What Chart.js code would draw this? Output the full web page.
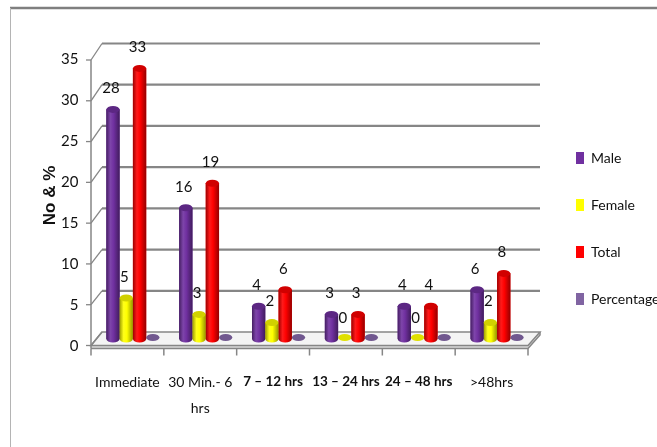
<!DOCTYPE html>
<html>
<head>
<meta charset="utf-8">
<script src="https://cdn.jsdelivr.net/npm/chart.js@4/dist/chart.umd.min.js"></script>
<style>
  html, body { margin: 0; padding: 0; background: #ffffff; }
  #wrap { width: 657px; height: 447px; position: relative; }
</style>
</head>
<body>
<div id="wrap"><canvas id="c" width="657" height="447"></canvas></div>
<script>
// Time categories and series values
const categories = ['Immediate', ['30 Min.- 6', 'hrs'], '7 – 12 hrs', '13 – 24 hrs', '24 – 48 hrs', '>48hrs'];
const male       = [28, 16, 4, 3, 4, 6];
const female     = [5, 3, 2, 0, 0, 2];
const total      = [33, 19, 6, 3, 4, 8];
const percentage = [0, 0, 0, 0, 0, 0];
const yAxisMax  = 35;
const yAxisStep = 5;
const yAxisTitle = 'No & %';

const FONT = "Lato, 'DejaVu Sans Condensed', sans-serif";
const GRID = '#868686';

function shade(hex, k) {
  const n = parseInt(hex.slice(1), 16);
  const r = n >> 16, g = (n >> 8) & 255, b = n & 255;
  const f = c => Math.round(k < 0 ? c * (1 + k) : c + (255 - c) * k);
  return 'rgb(' + f(r) + ',' + f(g) + ',' + f(b) + ')';
}

// Perspective frame: back wall gridlines, side diagonals, floor slab, front axis
const frame3d = {
  id: 'frame3d',
  beforeDatasetsDraw(chart) {
    const { ctx, chartArea: a, scales: { y } } = chart;
    const f = v => y.getPixelForValue(v);
    const front = v => f(v) + 6.5 + 1.5 * v / yAxisMax;
    const back = v => f(v) - 7 - 1.5 * v / yAxisMax;
    const fx0 = a.left - 5.5, fx1 = a.right - 5.5;
    const bx0 = a.left + 5.5, bx1 = a.right + 6.5;
    ctx.save();
    // outer frame
    ctx.strokeStyle = '#7f7f7f'; ctx.lineWidth = 2.5;
    ctx.beginPath(); ctx.moveTo(10, 8); ctx.lineTo(chart.width, 8); ctx.stroke();
    ctx.strokeStyle = '#b4b4b4'; ctx.lineWidth = 1;
    ctx.beginPath(); ctx.moveTo(10.5, 8); ctx.lineTo(10.5, chart.height); ctx.stroke();

    // floor slab
    const f0 = front(0), b0 = back(0), th = 3;
    ctx.fillStyle = '#f4f4f4';
    ctx.beginPath();
    ctx.moveTo(fx0, f0); ctx.lineTo(fx1, f0); ctx.lineTo(bx1, b0); ctx.lineTo(bx0, b0); ctx.closePath();
    ctx.fill();
    ctx.fillStyle = '#d9d9d9';
    ctx.beginPath();
    ctx.moveTo(fx0, f0); ctx.lineTo(fx1, f0); ctx.lineTo(bx1, b0); ctx.lineTo(bx1, b0 + th);
    ctx.lineTo(fx1, f0 + th); ctx.lineTo(fx0, f0 + th); ctx.closePath();
    ctx.fill();
    ctx.strokeStyle = GRID; ctx.lineWidth = 1.5;
    ctx.beginPath();
    ctx.moveTo(fx0, f0); ctx.lineTo(fx1, f0); ctx.lineTo(bx1, b0); ctx.lineTo(bx0, b0); ctx.closePath();
    ctx.stroke();
    ctx.beginPath();
    ctx.moveTo(fx0, f0 + th); ctx.lineTo(fx1, f0 + th); ctx.lineTo(bx1, b0 + th); ctx.lineTo(bx1, b0);
    ctx.stroke();

    // back wall gridlines and side diagonals
    for (let v = 0; v <= yAxisMax; v += yAxisStep) {
      ctx.strokeStyle = GRID;
      if (v > 0) {
        ctx.lineWidth = 2.2;
        ctx.beginPath(); ctx.moveTo(bx0, back(v)); ctx.lineTo(bx1, back(v)); ctx.stroke();
      }
      ctx.lineWidth = 1.3;
      ctx.beginPath(); ctx.moveTo(fx0, front(v)); ctx.lineTo(bx0, back(v)); ctx.stroke();
      ctx.beginPath(); ctx.moveTo(fx0 - 5, front(v)); ctx.lineTo(fx0, front(v)); ctx.stroke();
    }
    // front value axis
    ctx.lineWidth = 1.5;
    ctx.beginPath(); ctx.moveTo(fx0, front(yAxisMax)); ctx.lineTo(fx0, f0 + th); ctx.stroke();
    // category separators
    const step = (fx1 - fx0) / categories.length;
    for (let i = 0; i <= categories.length; i++) {
      const x = fx0 + i * step;
      ctx.beginPath(); ctx.moveTo(x, f0 + th); ctx.lineTo(x, f0 + 10); ctx.stroke();
    }
    ctx.restore();
  }
};

// Cylinder bodies, caps and value labels on top of the library's bars
const cylinders = {
  id: 'cylinders',
  afterDatasetsDraw(chart) {
    const { ctx } = chart;
    ctx.save();
    chart.data.datasets.forEach((ds, di) => {
      const meta = chart.getDatasetMeta(di);
      if (meta.hidden) return;
      const col = ds.backgroundColor;
      meta.data.forEach((bar) => {
        const { x, y: top, base, width } = bar.getProps(['x', 'y', 'base', 'width'], true);
        const rx = width / 2, ry = 3.5;
        if (base - top > 0.5) {
          const g = ctx.createLinearGradient(x - rx, 0, x + rx, 0);
          g.addColorStop(0, shade(col, -0.38));
          g.addColorStop(0.3, shade(col, 0.1));
          g.addColorStop(0.55, col);
          g.addColorStop(1, shade(col, -0.42));
          ctx.fillStyle = g;
          ctx.beginPath();
          ctx.moveTo(x - rx, top);
          ctx.lineTo(x - rx, base);
          ctx.ellipse(x, base, rx, ry, 0, Math.PI, 0, true);
          ctx.lineTo(x + rx, top);
          ctx.closePath();
          ctx.fill();
          ctx.fillStyle = shade(col, -0.18);
          ctx.beginPath(); ctx.ellipse(x, top, rx, ry, 0, 0, Math.PI * 2); ctx.fill();
        } else {
          ctx.fillStyle = shade(col, -0.12);
          ctx.beginPath(); ctx.ellipse(x, base - 1.5, rx, ry, 0, 0, Math.PI * 2); ctx.fill();
        }
      });
    });
    // value labels for Male, Female and Total
    ctx.font = '15px ' + FONT;
    ctx.fillStyle = '#111111';
    ctx.textAlign = 'center';
    ctx.textBaseline = 'middle';
    [0, 1, 2].forEach(di => {
      const meta = chart.getDatasetMeta(di);
      const values = chart.data.datasets[di].data;
      meta.data.forEach((bar, i) => {
        const { x, y: top } = bar.getProps(['x', 'y'], true);
        ctx.fillText(String(values[i]), x - 2, top - 21);
      });
    });
    ctx.restore();
  }
};

new Chart(document.getElementById('c'), {
  type: 'bar',
  data: {
    labels: categories,
    datasets: [
      { label: 'Male',       data: male,       backgroundColor: '#7030a0', borderWidth: 0 },
      { label: 'Female',     data: female,     backgroundColor: '#ffff00', borderWidth: 0 },
      { label: 'Total',      data: total,      backgroundColor: '#ff0000', borderWidth: 0 },
      { label: 'Percentage', data: percentage, backgroundColor: '#8064a2', borderWidth: 0 }
    ]
  },
  options: {
    responsive: false,
    animation: false,
    devicePixelRatio: 1,
    layout: { padding: { top: 52, bottom: 0, left: 0, right: 0 } },
    datasets: { bar: { barPercentage: 1, categoryPercentage: 0.73 } },
    plugins: {
      tooltip: { enabled: false },
      legend: {
        position: 'right',
        fullSize: false,
        align: 'end',
        maxWidth: 114,
        labels: {
          boxWidth: 8,
          boxHeight: 12,
          padding: 33,
          color: '#111111',
          font: { family: FONT, size: 14 }
        }
      }
    },
    scales: {
      x: {
        grid: { display: false, drawTicks: false },
        border: { display: false },
        ticks: {
          autoSkip: false,
          maxRotation: 0,
          padding: 30,
          labelOffset: -5.5,
          color: '#111111',
          font: (c) => {
            const strong = c.index >= 2 && c.index <= 4;
            return { family: FONT, size: strong ? 13.5 : 14, lineHeight: 26 / 14 * (strong ? 14 / 13.5 : 1),
                     weight: strong ? 'bold' : 'normal' };
          }
        },
        afterFit: (s) => { s.height = 108; }
      },
      y: {
        min: 0,
        max: yAxisMax,
        grid: { display: false, drawTicks: false },
        border: { display: false },
        ticks: {
          stepSize: yAxisStep,
          padding: 18,
          labelOffset: 7,
          color: '#111111',
          font: { family: FONT, size: 15 }
        },
        title: {
          display: true,
          text: yAxisTitle,
          color: '#111111',
          padding: { top: 40, bottom: 0 },
          font: { family: "'Liberation Sans', Arial, sans-serif", size: 17, weight: 'bold' }
        },
        afterFit: (s) => { s.width = 96.5; }
      },
      gap: {
        type: 'linear',
        position: 'right',
        display: true,
        grid: { display: false, drawTicks: false },
        border: { display: false },
        ticks: { display: false },
        afterFit: (s) => { s.width = 9.5; }
      }
    }
  },
  plugins: [frame3d, cylinders]
});
</script>
</body>
</html>
